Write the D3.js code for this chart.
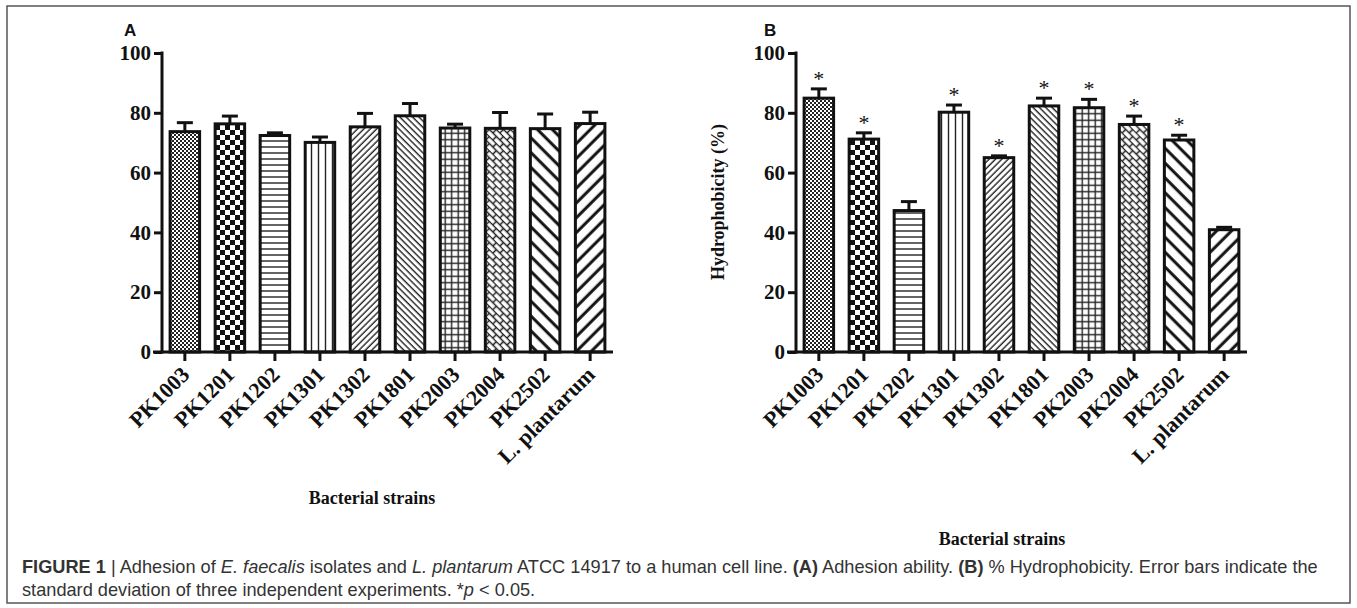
<!DOCTYPE html>
<html>
<head>
<meta charset="utf-8">
<script src="https://cdn.jsdelivr.net/npm/d3@7"></script>
<style>
body { margin: 0; background: #fff; }
svg { display: block; }
</style>
</head>
<body>
<svg width="1357" height="608"></svg>
<script>
// strains on the x axis (same for both panels)
var strains = ["PK1003", "PK1201", "PK1202", "PK1301", "PK1302", "PK1801", "PK2003", "PK2004", "PK2502", "L. plantarum"];

// panel A - adhesion ability (%)
var adhesion = [73.7, 76.3, 72.4, 70.1, 75.3, 79.0, 74.9, 74.8, 74.7, 76.4];
var adhesionSd = [3.0, 2.6, 0.9, 1.8, 4.5, 4.1, 1.3, 5.3, 4.9, 3.8];

// panel B - hydrophobicity (%)
var hydro = [84.9, 71.2, 47.3, 80.2, 65.0, 82.3, 81.7, 76.1, 70.9, 40.9];
var hydroSd = [3.1, 2.1, 3.0, 2.4, 0.6, 2.6, 2.8, 2.8, 1.6, 0.8];
var hydroSig = [true, true, false, true, true, true, true, true, true, false];

var yTicks = [0, 20, 40, 60, 80, 100];

var svg = d3.select("svg");
var serif = "'Liberation Serif', 'Times New Roman', serif";

// frame round the whole figure
svg.append("rect")
    .attr("x", 7).attr("y", 6)
    .attr("width", 1343).attr("height", 597)
    .attr("fill", "none")
    .attr("stroke", "#555")
    .attr("stroke-width", 1.5);

// ---- hatch patterns, one per strain ----
var defs = svg.append("defs");
function pat(id, w, h, rot) {
    var p = defs.append("pattern")
        .attr("id", id)
        .attr("patternUnits", "userSpaceOnUse")
        .attr("width", w).attr("height", h);
    if (rot) p.attr("patternTransform", "rotate(" + rot + ")");
    p.append("rect").attr("width", w).attr("height", h).attr("fill", "#fff");
    return p;
}
var p;
// fine checker
p = pat("p0", 4, 4);
p.append("rect").attr("width", 2).attr("height", 2).attr("fill", "#222");
p.append("rect").attr("x", 2).attr("y", 2).attr("width", 2).attr("height", 2).attr("fill", "#222");
// coarse checker
p = pat("p1", 10, 10);
p.append("rect").attr("width", 5).attr("height", 5).attr("fill", "#111");
p.append("rect").attr("x", 5).attr("y", 5).attr("width", 5).attr("height", 5).attr("fill", "#111");
// horizontal lines
p = pat("p2", 6, 6);
p.append("line").attr("x1", 0).attr("x2", 6).attr("y1", 3).attr("y2", 3).attr("stroke", "#222").attr("stroke-width", 1.4);
// vertical lines
p = pat("p3", 7, 7);
p.append("line").attr("y1", 0).attr("y2", 7).attr("x1", 3.5).attr("x2", 3.5).attr("stroke", "#222").attr("stroke-width", 1.4);
// dense "/" hatch
p = pat("p4", 4.5, 4.5, 45);
p.append("line").attr("y1", 0).attr("y2", 4.5).attr("x1", 2).attr("x2", 2).attr("stroke", "#222").attr("stroke-width", 1.4);
// dense "\" hatch
p = pat("p5", 4.5, 4.5, -45);
p.append("line").attr("y1", 0).attr("y2", 4.5).attr("x1", 2).attr("x2", 2).attr("stroke", "#222").attr("stroke-width", 1.4);
// grid
p = pat("p6", 6.5, 6.5);
p.append("path").attr("d", "M0,3.2H6.5M3.2,0V6.5").attr("stroke", "#222").attr("stroke-width", 1.4);
// brick weave
p = pat("p7", 10, 10, 45);
p.append("path").attr("d", "M0,0.5H10M0,5.5H10M2.5,0.5V5.5M7.5,5.5V10.5")
    .attr("stroke", "#222").attr("stroke-width", 1.5).attr("fill", "none");
// wide "\" hatch
p = pat("p8", 10.5, 10.5, -45);
p.append("line").attr("y1", 0).attr("y2", 10.5).attr("x1", 5).attr("x2", 5).attr("stroke", "#111").attr("stroke-width", 3);
// wide "/" hatch
p = pat("p9", 10.5, 10.5, 45);
p.append("line").attr("y1", 0).attr("y2", 10.5).attr("x1", 5).attr("x2", 5).attr("stroke", "#111").attr("stroke-width", 3);

function panel(opt) {
    var g = svg.append("g");
    var x = d3.scaleBand()
        .domain(strains)
        .range([opt.left, opt.right])
        .paddingInner(0.345)
        .paddingOuter(0.18);
    var y = d3.scaleLinear().domain([0, 100]).range([352, 53]);

    // bars
    g.selectAll("rect.bar")
        .data(strains)
        .enter().append("rect")
        .attr("class", "bar")
        .attr("x", d => x(d))
        .attr("y", (d, i) => y(opt.values[i]))
        .attr("width", x.bandwidth())
        .attr("height", (d, i) => y(0) - y(opt.values[i]))
        .attr("fill", (d, i) => "url(#p" + i + ")")
        .attr("stroke", "#111")
        .attr("stroke-width", 3);

    // error bars (upper only)
    var eb = g.selectAll("g.err")
        .data(strains)
        .enter().append("g")
        .attr("class", "err")
        .attr("stroke", "#111")
        .attr("stroke-width", 3);
    eb.append("line")
        .attr("x1", d => x(d) + x.bandwidth() / 2)
        .attr("x2", d => x(d) + x.bandwidth() / 2)
        .attr("y1", (d, i) => y(opt.values[i]))
        .attr("y2", (d, i) => y(opt.values[i] + opt.sd[i]));
    eb.append("line")
        .attr("x1", d => x(d) + x.bandwidth() / 2 - 8)
        .attr("x2", d => x(d) + x.bandwidth() / 2 + 8)
        .attr("y1", (d, i) => y(opt.values[i] + opt.sd[i]))
        .attr("y2", (d, i) => y(opt.values[i] + opt.sd[i]));

    // significance stars
    if (opt.sig) {
        g.selectAll("text.star")
            .data(strains.filter((d, i) => opt.sig[i]))
            .enter().append("text")
            .attr("x", d => x(d) + x.bandwidth() / 2)
            .attr("y", d => { var i = strains.indexOf(d); return y(opt.values[i] + opt.sd[i]) - 3; })
            .attr("text-anchor", "middle")
            .attr("font-family", serif)
            .attr("font-size", 22)
            .attr("fill", "#111")
            .text("*");
    }

    // y axis
    var ya = g.append("g")
        .attr("transform", "translate(" + opt.left + ",0)")
        .call(d3.axisLeft(y).tickValues(yTicks).tickSize(8).tickPadding(3).tickSizeOuter(0));
    ya.select(".domain").remove();
    g.append("line")
        .attr("x1", opt.left).attr("x2", opt.left)
        .attr("y1", y(0) + 1.5).attr("y2", y(100) - 1.5)
        .attr("stroke", "#111").attr("stroke-width", 3);

    // x axis
    var xa = g.append("g")
        .attr("transform", "translate(0," + y(0) + ")")
        .call(d3.axisBottom(x).tickSize(9).tickSizeOuter(0).tickFormat(""));
    xa.select(".domain").remove();
    g.append("line")
        .attr("x1", opt.left - 9).attr("x2", opt.right)
        .attr("y1", y(0)).attr("y2", y(0))
        .attr("stroke", "#111").attr("stroke-width", 3);

    g.selectAll(".tick line").attr("stroke", "#111").attr("stroke-width", 3);
    ya.selectAll(".tick text")
        .attr("font-family", serif)
        .attr("font-weight", "bold")
        .attr("font-size", 21)
        .attr("fill", "#111");

    // rotated strain labels
    g.selectAll("text.xl")
        .data(strains)
        .enter().append("text")
        .attr("class", "xl")
        .attr("transform", d => "translate(" + (x(d) + x.bandwidth() / 2 + 6) + "," + (y(0) + 24) + ") rotate(-45)")
        .attr("text-anchor", "end")
        .attr("font-family", serif)
        .attr("font-weight", "bold")
        .attr("font-size", 22)
        .attr("fill", "#111")
        .text(d => d);

    // axis title
    g.append("text")
        .attr("x", opt.titleX).attr("y", opt.titleY)
        .attr("text-anchor", "middle")
        .attr("font-family", serif)
        .attr("font-weight", "bold")
        .attr("font-size", 18)
        .attr("fill", "#111")
        .text("Bacterial strains");

    // panel letter
    g.append("text")
        .attr("x", opt.letterX).attr("y", 36)
        .attr("font-family", "'Liberation Sans', Arial, sans-serif")
        .attr("font-weight", "bold")
        .attr("font-size", 17)
        .attr("fill", "#111")
        .text(opt.letter);

    return g;
}

panel({ left: 162, right: 613, values: adhesion, sd: adhesionSd, titleX: 372, titleY: 504, letter: "A", letterX: 124 });
panel({ left: 796, right: 1247, values: hydro, sd: hydroSd, sig: hydroSig, titleX: 1002, titleY: 545, letter: "B", letterX: 764 });

svg.append("text")
    .attr("transform", "translate(724,202) rotate(-90)")
    .attr("text-anchor", "middle")
    .attr("font-family", serif)
    .attr("font-weight", "bold")
    .attr("font-size", 18)
    .attr("fill", "#111")
    .text("Hydrophobicity (%)");

// figure caption
var cap = svg.append("g")
    .attr("font-family", "'Liberation Sans', Arial, sans-serif")
    .attr("font-size", 18.2)
    .attr("fill", "#333");
var l1 = cap.append("text").attr("x", 22).attr("y", 573);
l1.append("tspan").attr("font-weight", "bold").text("FIGURE 1");
l1.append("tspan").text(" | Adhesion of ");
l1.append("tspan").attr("font-style", "italic").text("E. faecalis");
l1.append("tspan").text(" isolates and ");
l1.append("tspan").attr("font-style", "italic").text("L. plantarum");
l1.append("tspan").text(" ATCC 14917 to a human cell line. ");
l1.append("tspan").attr("font-weight", "bold").text("(A)");
l1.append("tspan").text(" Adhesion ability. ");
l1.append("tspan").attr("font-weight", "bold").text("(B)");
l1.append("tspan").text(" % Hydrophobicity. Error bars indicate the");
var l2 = cap.append("text").attr("x", 22).attr("y", 596);
l2.append("tspan").text("standard deviation of three independent experiments. *");
l2.append("tspan").attr("font-style", "italic").text("p");
l2.append("tspan").text(" < 0.05.");
</script>
</body>
</html>
